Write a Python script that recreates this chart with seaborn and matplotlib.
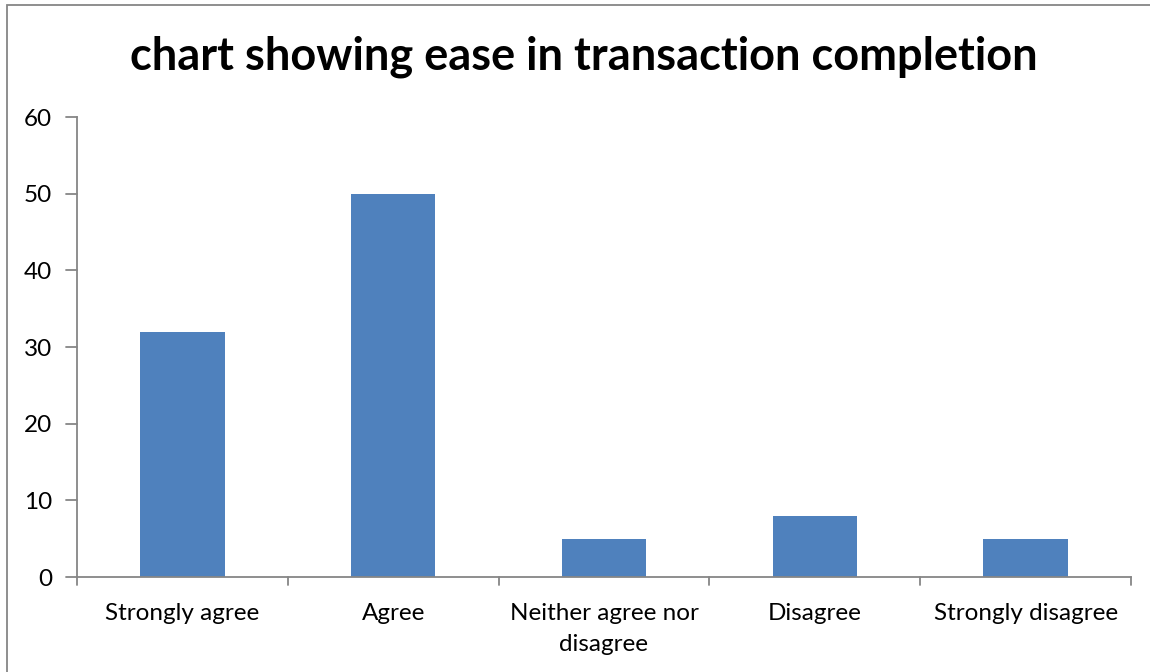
import matplotlib
matplotlib.use("Agg")
import matplotlib.pyplot as plt
import seaborn as sns
import pandas as pd
from matplotlib.patches import Rectangle

categories = ["Strongly agree", "Agree", "Neither agree nor\ndisagree", "Disagree", "Strongly disagree"]
values = [32, 50, 5, 8, 5]
yticks = [0, 10, 20, 30, 40, 50, 60]

sns.set_theme(style="white")
plt.rcParams["font.family"] = ["Lato", "DejaVu Sans"]

df = pd.DataFrame({"category": categories, "value": values})

fig = plt.figure(figsize=(11.5, 6.72), dpi=100)
ax = fig.add_axes([77 / 1150, 1 - 577 / 672, (1131 - 77) / 1150, (577 - 117) / 672])

sns.barplot(data=df, x="category", y="value", color="#4F81BD", saturation=1,
            width=0.40, linewidth=0, ax=ax)

axis_grey = "#868686"
ax.set_ylim(0, 60)
ax.set_xlim(-0.5, len(categories) - 0.5)
ax.set_yticks(yticks)
ax.set_yticklabels([str(t) for t in yticks], fontsize=17.5, color="#000000")
ax.set_xticks(range(len(categories)))
ax.set_xticklabels(categories, fontsize=17.5, color="#000000", linespacing=1.55)
ax.tick_params(axis="x", length=0, pad=19)
ax.tick_params(axis="y", length=0, pad=18)
ax.set_xlabel("")
ax.set_ylabel("")

# tick marks between categories and on the value axis
for b in [i - 0.5 for i in range(len(categories) + 1)]:
    ax.plot([b, b], [0, -1.0], color=axis_grey, lw=1.3, clip_on=False)
for t in yticks:
    ax.plot([-0.5, -0.5 - 0.05], [t, t], color=axis_grey, lw=1.3, clip_on=False)

for side in ["top", "right"]:
    ax.spines[side].set_visible(False)
for side in ["left", "bottom"]:
    ax.spines[side].set_color(axis_grey)
    ax.spines[side].set_linewidth(1.3)

fig.text(584 / 1150, 1 - 57 / 672, "chart showing ease in transaction completion",
         ha="center", va="center", fontsize=32.5, fontweight="bold", color="#000000")

# chart area border
fig.patches.append(Rectangle((7 / 1150, -0.1), 1.2, 1 - 5 / 672 + 0.1,
                             transform=fig.transFigure, fill=False,
                             edgecolor="#868686", lw=1.3))

fig.savefig("out.png", dpi=100, facecolor="white")
